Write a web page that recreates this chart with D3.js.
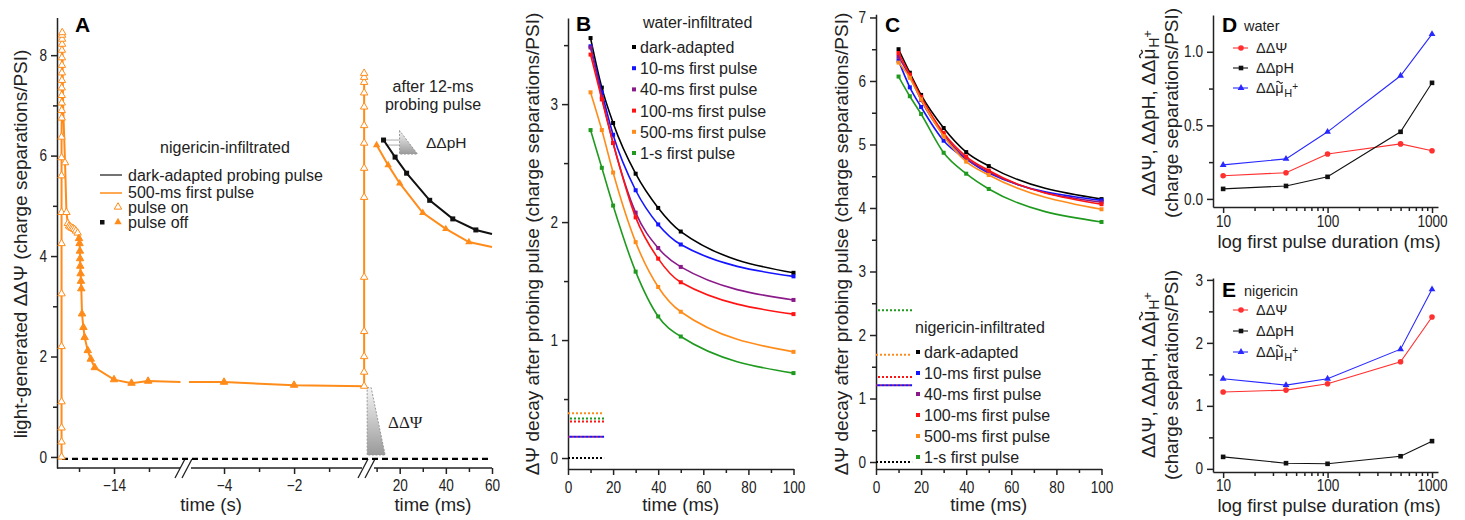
<!DOCTYPE html>
<html><head><meta charset="utf-8">
<script src="https://cdn.jsdelivr.net/npm/d3@7"></script>
<style>
body{margin:0;background:#fff}
svg{font-family:"Liberation Sans",Arial,sans-serif}
.axis path,.axis line{stroke:#222;stroke-width:1.5}
.axis text{font-size:16px;fill:#222;font-family:"Liberation Sans",Arial,sans-serif}
.lab{font-size:18.5px;fill:#222}
.leg{font-size:16px;fill:#222}
.sleg{font-size:14.5px;fill:#222}
.big{font-size:21px;font-weight:bold;fill:#000}
</style></head><body>
<svg id="fig" width="1465" height="520"></svg>
<script>
// ---------- panel A (nigericin, time course) ----------
// [time (s), value, state]  state: on = pulse on, off = pulse off, '' = no marker
const aSeg1 = [
  [-17.00,0,'on'],[-17.00,0.3,'on'],[-17.00,0.58,'on'],[-17.00,1.1,'on'],[-17.00,2.2,'on'],[-17.00,3.25,'on'],
  [-17.00,4.25,'on'],[-17.00,4.87,'on'],[-17.00,5.6,'on'],[-17.00,5.96,'on'],[-17.00,6.37,'on'],[-16.99,6.75,'on'],
  [-16.99,6.9,'on'],[-16.99,7.05,'on'],[-16.99,7.2,'on'],[-16.99,7.35,'on'],[-16.98,7.5,'on'],[-16.98,7.65,'on'],
  [-16.98,7.8,'on'],[-16.98,7.95,'on'],[-16.98,8.1,'on'],[-16.97,8.22,'on'],[-16.97,8.32,'on'],[-16.97,8.4,'on'],
  [-16.96,8.45,'on'],[-16.91,7.0,''],[-16.8,5.86,'on'],[-16.72,4.87,'on'],[-16.64,4.65,'on'],[-16.57,4.6,'on'],
  [-16.5,4.58,'on'],[-16.42,4.56,'on'],[-16.34,4.55,'on'],[-16.26,4.53,'on'],[-16.18,4.5,'on'],[-16.08,4.46,'on'],
  [-16.0,4.35,'off'],[-15.97,4.25,'off'],[-15.95,4.1,'off'],[-15.94,3.95,'off'],[-15.93,3.8,'off'],[-15.91,3.65,'off'],
  [-15.89,3.5,'off'],[-15.87,3.35,'off'],[-15.83,2.85,'off'],[-15.75,2.58,'off'],[-15.68,2.38,'off'],[-15.5,2.12,'off'],
  [-15.33,1.95,'off'],[-15.1,1.78,'off'],[-14,1.54,'off'],[-13.0,1.47,'off'],[-12.05,1.51,'off'],[-10.2,1.49,'']
];
const aSeg2 = [
  [-5.0,1.49,''],[-4,1.49,'off'],[-2,1.43,'off'],[0,1.41,'on'],[0,1.69,'on'],[0,2.0,'on'],[0,2.5,'on'],[0,3.58,'on'],
  [0,5.17,'on'],[0,5.75,'on'],[0,6.25,'on'],[0,6.6,'on'],[0,6.97,'on'],[0,7.25,'on'],[0,7.46,'on'],[0,7.56,'on'],[0,7.64,'on']
];
// after probing pulse, [time (ms), value]
const aDark = [[13,6.31],[18,5.97],[23,5.65],[33,5.11],[43,4.74],[53,4.52],[60,4.44]];
const aFirst = [[10,6.21],[15,5.81],[20,5.45],[30,4.86],[40,4.54],[50,4.28],[60,4.18]];
const aBaseline = -0.04;

// ---------- panels B and C ----------
const bcTimes = [10, 15, 20, 30, 40, 50, 100];
const bcNames = ['dark-adapted','10-ms first pulse','40-ms first pulse','100-ms first pulse','500-ms first pulse','1-s first pulse'];
const bcColors = ['#000000','#1414ff','#8a1a8a','#ff1414','#ff8c1a','#1f9a1f'];
const bValues = [
  [3.56,3.14,2.84,2.41,2.12,1.92,1.57],
  [3.49,3.10,2.74,2.27,1.98,1.81,1.54],
  [3.48,3.06,2.67,2.08,1.78,1.62,1.34],
  [3.42,3.04,2.67,2.04,1.69,1.49,1.22],
  [3.10,2.78,2.42,1.83,1.45,1.24,0.90],
  [2.78,2.46,2.14,1.58,1.20,1.03,0.72]
];
const bDotted = [0, 0.18, 0.18, 0.31, 0.38, 0.335];
const cValues = [
  [6.50,6.13,5.78,5.26,4.88,4.66,4.14],
  [6.32,5.90,5.59,5.06,4.77,4.55,4.12],
  [6.38,6.07,5.70,5.15,4.78,4.57,4.09],
  [6.44,6.10,5.75,5.18,4.81,4.59,4.06],
  [6.29,6.05,5.71,5.13,4.73,4.52,3.98],
  [6.07,5.76,5.48,4.87,4.54,4.30,3.78]
];
const cDotted = [0, 1.21, 1.21, 1.34, 1.69, 2.39];

// ---------- panels D and E ----------
const deDur = [10, 40, 100, 500, 1000];
const deNames = ['ΔΔΨ', 'ΔΔpH', 'mu'];
const deColors = ['#ff3030', '#111111', '#2828ff'];
const dValues = [
  [0.157,0.178,0.305,0.374,0.327],
  [0.068,0.088,0.150,0.456,0.789],
  [0.231,0.272,0.456,0.837,1.12]
];
const eValues = [
  [1.22,1.25,1.35,1.70,2.41],
  [0.19,0.09,0.08,0.20,0.44],
  [1.43,1.33,1.43,1.90,2.85]
];

const svg = d3.select('#fig');
const ORANGE = '#ff8c1a';
const SQ = 0.85; // tick digits are narrow in the figure

function squeeze(g) {
  g.selectAll('text').each(function () {
    const x = +this.getAttribute('x') || 0;
    this.setAttribute('x', x / SQ);
    this.setAttribute('transform', 'scale(' + SQ + ',1)');
  });
}
function axisLeft(scale, x, major, minor, fmt) {
  svg.append('g').attr('class','axis').attr('transform','translate('+x+',0)')
    .call(d3.axisLeft(scale).tickValues(major).tickSize(6).tickSizeOuter(0).tickPadding(4).tickFormat(fmt || d3.format('d')))
    .call(squeeze);
  svg.append('g').attr('class','axis').attr('transform','translate('+x+',0)')
    .call(d3.axisLeft(scale).tickValues(minor).tickSize(4).tickFormat(''))
    .select('.domain').remove();
}
function axisBottom(scale, y, major, minor, pad, keepDomain) {
  const g = svg.append('g').attr('class','axis').attr('transform','translate(0,'+y+')')
    .call(d3.axisBottom(scale).tickValues(major).tickSize(6).tickSizeOuter(0).tickPadding(pad).tickFormat(d3.format('d')))
    .call(squeeze);
  if (keepDomain === false) g.select('.domain').remove();
  svg.append('g').attr('class','axis').attr('transform','translate(0,'+y+')')
    .call(d3.axisBottom(scale).tickValues(minor).tickSize(4).tickFormat(''))
    .select('.domain').remove();
}
function text(x, y, s, cls, anchor) {
  return svg.append('text').attr('x',x).attr('y',y).attr('class',cls||'leg')
    .attr('text-anchor',anchor||'start').text(s);
}
function vlabel(x, y, s) {
  return svg.append('text').attr('transform','translate('+x+','+y+') rotate(-90)')
    .attr('text-anchor','middle').style('font-size','19px').attr('fill','#222').text(s);
}
const tri = d3.symbol(d3.symbolTriangle).size(24);

// ================= A =================
const yA = d3.scaleLinear().domain([-0.22, 8.75]).range([468, 17.5]);
const xA1 = d3.scaleLinear().domain([-17.26, -9.94]).range([57, 185]);
const xA2 = d3.scaleLinear().domain([-5.0, 0.11]).range([189, 368]);
const xA3 = d3.scaleLinear().domain([8, 60]).range([372, 492]);

axisLeft(yA, 57, [0,2,4,6,8], [1,3,5,7]);
axisBottom(xA1, 468, [-14], [-16,-12], 6, false);
axisBottom(xA2, 468, [-4,-2], [-3,-1], 6, false);
axisBottom(xA3, 468, [20,40,60], [10,30,50], 6, false);
// axis line pieces and break marks
[[57,180],[191,362],[374,492]].forEach(s => svg.append('line').attr('x1',s[0]).attr('x2',s[1])
  .attr('y1',468).attr('y2',468).attr('stroke','#222').attr('stroke-width',1.5));
[184, 367].forEach(bx => {
  [0, 7].forEach(o => svg.append('line').attr('x1',bx-9+o).attr('y1',478).attr('x2',bx+1+o).attr('y2',459)
    .attr('stroke','#222').attr('stroke-width',1.3));
});
// dashed baseline
svg.append('line').attr('x1',62).attr('x2',492).attr('y1',yA(aBaseline)).attr('y2',yA(aBaseline))
  .attr('stroke','#000').attr('stroke-width',2.2).attr('stroke-dasharray','6,4');

const lineA1 = d3.line().x(d => xA1(d[0])).y(d => yA(d[1]));
const lineA2 = d3.line().x(d => xA2(d[0])).y(d => yA(d[1]));
const lineA3 = d3.line().x(d => xA3(d[0])).y(d => yA(d[1]));

// grey annotation wedges
const defs = svg.append('defs');
const grad = defs.append('linearGradient').attr('id','gw').attr('x1',0).attr('y1',0).attr('x2',0).attr('y2',1);
grad.append('stop').attr('offset','0%').attr('stop-color','#f4f4f4');
grad.append('stop').attr('offset','100%').attr('stop-color','#9a9a9a');
const wx = xA2(0) + 3;
svg.append('path').attr('d', `M${wx},${yA(1.38)} L${wx+4},${yA(1.38)} L${wx+18},${yA(0.04)} L${wx},${yA(0.04)} Z`)
  .attr('fill','url(#gw)').attr('stroke','#999').attr('stroke-dasharray','2,1.5').attr('stroke-width',1);
const px = xA3(aDark[0][0]);
[aDark[0][1], aFirst[0][1]].forEach(v => svg.append('line').attr('x1',px+2).attr('x2',px+16)
  .attr('y1',yA(v)).attr('y2',yA(v)).attr('stroke','#aaa').attr('stroke-width',1));
svg.append('path').attr('d', `M${px+16},${yA(6.5)} L${px+16},${yA(6.03)} L${px+34},${yA(6.03)} Z`)
  .attr('fill','url(#gw)').attr('stroke','#999').attr('stroke-dasharray','2,1.5').attr('stroke-width',1);

svg.append('path').attr('d', lineA1(aSeg1)).attr('fill','none').attr('stroke',ORANGE).attr('stroke-width',2);
svg.append('path').attr('d', lineA2(aSeg2)).attr('fill','none').attr('stroke',ORANGE).attr('stroke-width',2);
svg.append('path').attr('d', lineA3(aDark)).attr('fill','none').attr('stroke','#111').attr('stroke-width',2);
svg.append('path').attr('d', lineA3(aFirst)).attr('fill','none').attr('stroke',ORANGE).attr('stroke-width',2);

function triMarks(data, xs) {
  svg.append('g').selectAll('path').data(data.filter(d => d[2])).join('path')
    .attr('d', tri).attr('transform', d => `translate(${xs(d[0])},${yA(d[1])})`)
    .attr('fill', d => d[2] === 'on' ? '#fff' : ORANGE).attr('stroke', ORANGE).attr('stroke-width',1);
}
triMarks(aSeg1, xA1);
triMarks(aSeg2, xA2);
svg.append('g').selectAll('path').data(aFirst.slice(0,-1)).join('path')
  .attr('d', tri).attr('transform', d => `translate(${xA3(d[0])},${yA(d[1])})`).attr('fill',ORANGE);
svg.append('g').selectAll('rect').data(aDark.slice(0,-1)).join('rect')
  .attr('x', d => xA3(d[0])-2.5).attr('y', d => yA(d[1])-2.5).attr('width',5).attr('height',5).attr('fill','#111');

text(75, 32, 'A', 'big');
vlabel(27, 244, 'light-generated ΔΔΨ (charge separations/PSI)');
text(211, 511, 'time (s)', 'lab', 'middle');
text(433, 511, 'time (ms)', 'lab', 'middle');
text(225, 153, 'nigericin-infiltrated', 'leg', 'middle');
svg.append('line').attr('x1',100).attr('x2',122).attr('y1',175).attr('y2',175).attr('stroke','#444').attr('stroke-width',1.5);
svg.append('line').attr('x1',100).attr('x2',122).attr('y1',193).attr('y2',193).attr('stroke',ORANGE).attr('stroke-width',1.5);
svg.append('path').attr('d',tri).attr('transform','translate(118,207)').attr('fill','#fff').attr('stroke',ORANGE);
svg.append('path').attr('d',tri).attr('transform','translate(118,222)').attr('fill',ORANGE);
svg.append('rect').attr('x',100).attr('y',220).attr('width',4.5).attr('height',4.5).attr('fill','#111');
text(128, 181, 'dark-adapted probing pulse');
text(128, 198, '500-ms first pulse');
text(128, 213, 'pulse on');
text(128, 228, 'pulse off');
text(433, 92, 'after 12-ms', 'leg', 'middle');
text(433, 110, 'probing pulse', 'leg', 'middle');
svg.append('text').attr('x',426).attr('y',148).style('font-size','15.5px').attr('fill','#222').text('ΔΔpH');
svg.append('text').attr('x',388).attr('y',428).style('font-family','"Liberation Serif",serif')
  .style('font-size','17px').attr('fill','#222').text('ΔΔΨ');

// ================= B and C =================
function decayPanel(x0, yScale, values, dotted, yMajor, yMinor, legendTitle, titleX, legX, legY0, legStep) {
  const xs = d3.scaleLinear().domain([0,100]).range([x0, x0+225.5]);
  axisLeft(yScale, x0, yMajor, yMinor);
  axisBottom(xs, 469, [0,20,40,60,80,100], [10,30,50,70,90], 7);
  dotted.forEach((v,i) => svg.append('line').attr('x1',xs(0)).attr('x2',xs(16)).attr('y1',yScale(v)).attr('y2',yScale(v))
    .attr('stroke',bcColors[i]).attr('stroke-width',2).attr('stroke-dasharray','2,2').attr('stroke-dashoffset',(i%2)*2));
  const line = d3.line().x((d,i) => xs(bcTimes[i])).y(d => yScale(d)).curve(d3.curveMonotoneX);
  values.forEach((vals,i) => {
    svg.append('path').attr('d', line(vals)).attr('fill','none').attr('stroke',bcColors[i]).attr('stroke-width',1.6);
    svg.append('g').selectAll('rect').data(vals).join('rect')
      .attr('x',(d,j) => xs(bcTimes[j])-2).attr('y',d => yScale(d)-2).attr('width',4).attr('height',4).attr('fill',bcColors[i]);
  });
  text(titleX, legY0 - 25, legendTitle);
  bcNames.forEach((n,i) => {
    const y = legY0 + i*legStep;
    svg.append('rect').attr('x',legX).attr('y',y-8).attr('width',4).attr('height',4).attr('fill',bcColors[i]);
    text(legX+8, y, n);
  });
  text(xs(50), 511, 'time (ms)', 'lab', 'middle');
  return xs;
}
const yB = d3.scaleLinear().domain([-0.093, 3.73]).range([469, 18]);
decayPanel(568, yB, bValues, bDotted, [0,1,2,3], [0.5,1.5,2.5,3.5], 'water-infiltrated', 643, 632, 53, 21.2);
text(576, 31, 'B', 'big');
vlabel(539, 244, 'ΔΨ decay after probing pulse (charge separations/PSI)');

const yC = d3.scaleLinear().domain([-0.11, 7.05]).range([469, 14.3]);
decayPanel(876, yC, cValues, cDotted, [0,1,2,3,4,5,6,7], [0.5,1.5,2.5,3.5,4.5,5.5,6.5], 'nigericin-infiltrated', 915, 916, 358, 21);
text(885, 32, 'C', 'big');
vlabel(848, 244, 'ΔΨ decay after probing pulse (charge separations/PSI)');

// ================= D and E =================
// "ΔΔμ~H+" : the tilde over mu is drawn as a small path so it sits right over the glyph
function muLabel(parent, t, size, sub, baseY) {
  t.append('tspan').text('ΔΔμ');
  t.append('tspan').attr('dx','0.05em').attr('dy',4).style('font-size',sub+'px').text('H');
  t.append('tspan').attr('dy',-7).style('font-size',(sub-1)+'px').text('+');
  const node = t.node();
  const idx = node.textContent.indexOf('μ');
  const ext = node.getExtentOfChar(idx);
  const w = size * 0.42, a = size * 0.1;
  const x0 = ext.x + ext.width / 2 - w / 2, ty = baseY - size * 0.74;
  parent.append('path')
    .attr('d', `M${x0},${ty} C${x0+w*0.15},${ty-a} ${x0+w*0.35},${ty-a} ${x0+w*0.5},${ty} S${x0+w*0.85},${ty+a} ${x0+w},${ty}`)
    .attr('fill','none').attr('stroke', '#222').attr('stroke-width', size > 16 ? 1.4 : 1.1);
}
function summaryPanel(yScale, yBottom, values, yMajor, yMinor, fmt, letter, title, letterY, rowY0, rowStep, pad, xlabY, cy) {
  const xs = d3.scaleLog().domain([8, 1141]).range([1213, 1438]);
  axisLeft(yScale, 1213, yMajor, yMinor, fmt);
  axisBottom(xs, yBottom, [10,100,1000], [20,30,40,50,60,70,80,90,200,300,400,500,600,700,800,900], pad);
  const line = d3.line().x((d,i) => xs(deDur[i])).y(d => yScale(d));
  values.forEach((vals,i) => {
    svg.append('path').attr('d', line(vals)).attr('fill','none').attr('stroke',deColors[i]).attr('stroke-width',1.1);
  });
  function mark(g, i, x, y) {
    if (i === 0) g.append('circle').attr('cx',x).attr('cy',y).attr('r',2.8).attr('fill',deColors[i]);
    else if (i === 1) g.append('rect').attr('x',x-2.3).attr('y',y-2.3).attr('width',4.6).attr('height',4.6).attr('fill',deColors[i]);
    else g.append('path').attr('d',d3.symbol(d3.symbolTriangle).size(20)).attr('transform',`translate(${x},${y})`).attr('fill',deColors[i]);
  }
  const g = svg.append('g');
  values.forEach((vals,i) => vals.forEach((v,j) => mark(g, i, xs(deDur[j]), yScale(v))));
  text(1222, letterY, letter, 'big');
  text(1244, letterY - 1, title, 'sleg');
  [0,1,2].forEach(i => {
    const y = rowY0 + i*rowStep;
    svg.append('line').attr('x1',1233).attr('x2',1248).attr('y1',y).attr('y2',y).attr('stroke',deColors[i]).attr('stroke-width',1.1);
    mark(g, i, 1241, y);
    const t = svg.append('text').attr('x',1256).attr('y',y+5).attr('class','sleg');
    if (i < 2) t.text(deNames[i]); else muLabel(svg, t, 14.5, 11, y+5);
  });
  text(1329, xlabY, 'log first pulse duration (ms)', 'lab', 'middle');
  const lg = svg.append('g').attr('transform',`translate(1155,${cy}) rotate(-90)`);
  const l1 = lg.append('text').attr('text-anchor','middle').style('font-size','19px').attr('fill','#222');
  l1.append('tspan').text('ΔΔΨ, ΔΔpH, ');
  muLabel(lg, l1, 19, 14, 0);
  vlabel(1178, cy, '(charge separations/PSI)');
}
const yD = d3.scaleLinear().domain([-0.055, 1.25]).range([207, 15]);
summaryPanel(yD, 207, dValues, [0,0.5,1.0], [0.25,0.75], d3.format('.1f'), 'D', 'water', 32, 48, 20, 3, 248, 113);
const yE = d3.scaleLinear().domain([-0.05, 3.03]).range([472, 278]);
summaryPanel(yE, 472, eValues, [0,1,2,3], [0.5,1.5,2.5], d3.format('d'), 'E', 'nigericin', 297, 310, 21, 2, 512, 375);
</script>
</body></html>
